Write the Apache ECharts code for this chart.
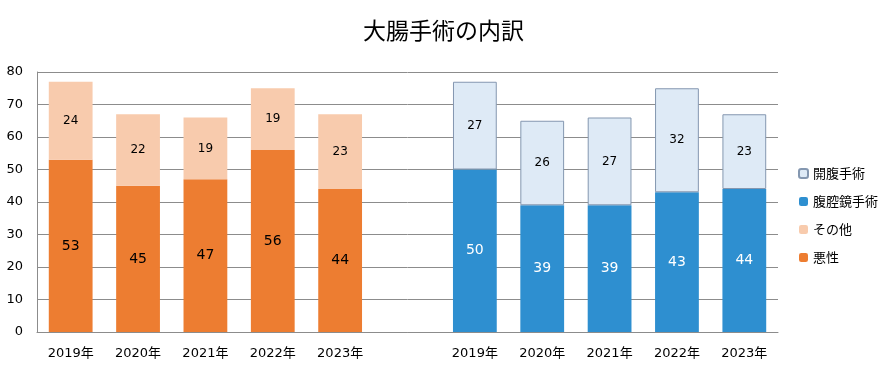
<!DOCTYPE html>
<html><head><meta charset="utf-8">
<script src="https://cdn.jsdelivr.net/npm/echarts@6/dist/echarts.min.js"></script>
<style>html,body{margin:0;padding:0;background:#fff}#c{width:887px;height:372px}</style>
</head><body><div id="c"></div>
<script>
const years = ['2019年','2020年','2021年','2022年','2023年'];
const akusei = [53,45,47,56,44];
const sonota = [24,22,19,19,23];
const fukukukyo = [50,39,39,43,44];
const kaifuku = [27,26,27,32,23];
const yTicks = [0,10,20,30,40,50,60,70,80];

const categories = years.concat([''], years);
const blank = years.map(() => '-');
const leftData = a => a.concat(['-'], blank);
const rightData = a => blank.concat(['-'], a);

const font = 'DejaVu Sans, "Noto Sans CJK JP", sans-serif';
const chart = echarts.init(document.getElementById('c'));
chart.setOption({
  animation: false,
  title: { text: '大腸手術の内訳', left: 'center', top: 14,
    textStyle: { fontSize: 23, fontWeight: 'normal', color: '#000', fontFamily: '"Noto Sans CJK JP", sans-serif' } },
  grid: { left: 37, right: 109, top: 72, bottom: 40 },
  legend: {
    orient: 'vertical', left: 793, top: 162, itemWidth: 9, itemHeight: 9, itemGap: 15,
    data: ['開腹手術','腹腔鏡手術','その他','悪性'],
    textStyle: { fontSize: 13, color: '#000', fontFamily: '"Noto Sans CJK JP", sans-serif' }
  },
  xAxis: {
    type: 'category', data: categories,
    axisLine: { lineStyle: { color: '#8c8c8c' } }, axisTick: { show: false },
    axisLabel: { fontSize: 13, color: '#000', margin: 15, fontFamily: font }
  },
  yAxis: {
    type: 'value', min: yTicks[0], max: yTicks[yTicks.length-1], interval: 10,
    axisLine: { show: true, lineStyle: { color: '#8c8c8c' } },
    splitLine: { lineStyle: { color: '#8c8c8c' } },
    axisLabel: { fontSize: 13, color: '#000', margin: 14, fontFamily: font }
  },
  series: [
    { name: '悪性', type: 'bar', stack: 's', barWidth: '65%', data: leftData(akusei),
      itemStyle: { color: '#ED7D31' },
      label: { show: true, position: 'inside', fontSize: 14, color: '#000', fontFamily: font } },
    { name: 'その他', type: 'bar', stack: 's', data: leftData(sonota),
      itemStyle: { color: '#F8CBAD' },
      label: { show: true, position: 'inside', fontSize: 12, color: '#000', fontFamily: font } },
    { name: '腹腔鏡手術', type: 'bar', stack: 's', data: rightData(fukukukyo),
      itemStyle: { color: '#2E8FD0' },
      label: { show: true, position: 'inside', fontSize: 14, color: '#fff', fontFamily: font } },
    { name: '開腹手術', type: 'bar', stack: 's', data: rightData(kaifuku),
      itemStyle: { color: '#DEEAF6', borderColor: '#8497B0', borderWidth: 1 },
      label: { show: true, position: 'inside', fontSize: 12, color: '#000', fontFamily: font } }
  ]
});
</script></body></html>
